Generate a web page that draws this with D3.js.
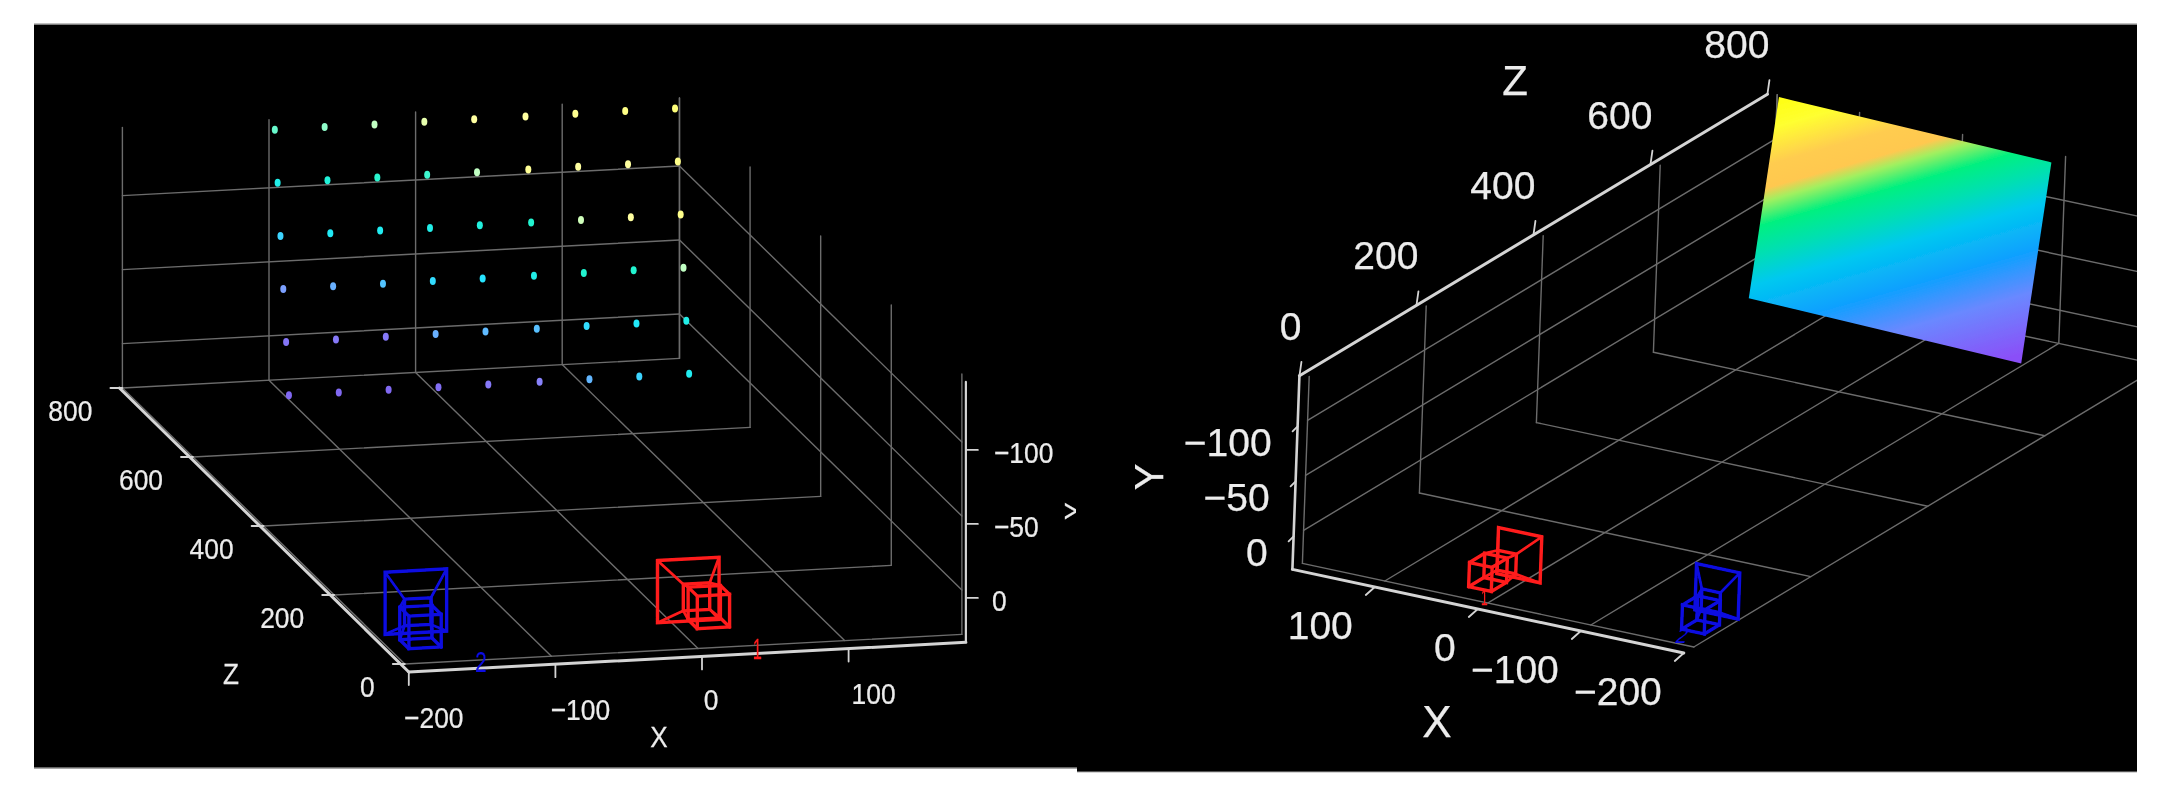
<!DOCTYPE html>
<html><head><meta charset="utf-8">
<style>html,body{margin:0;padding:0;background:#fff}svg{display:block}text{font-family:"Liberation Sans",Arial,sans-serif;fill:#ececec;stroke:#ececec;stroke-width:.25}</style>
<script src="https://cdn.jsdelivr.net/npm/d3@7/dist/d3.min.js"></script>
</head><body><svg id="c" width="2158" height="794"></svg>
<script>
// ---- data ----
const xTicks=[-200,-100,0,100];
const yTicks=[-100,-50,0];
const zTicks=[0,200,400,600,800];
const xMax=180, yTop=-146, yTopRight=-140, yFloor=30;
const boardX=[-97,-63,-29,5,39,74,108,142,176];
const boardY=[-140,-106,-72,-38,-4,30];
const boardZ=[796,788,780,772,764,756];
const surfaceZShift=[-15,0];
const dotValues=[
 [.62,.66,.72,.80,.85,.85,.90,.93,.97],
 [.50,.53,.56,.58,.72,.88,.85,.85,.92],
 [.40,.47,.48,.50,.52,.55,.75,.85,.92],
 [.25,.30,.36,.42,.44,.50,.55,.55,.72],
 [.08,.10,.10,.30,.33,.35,.42,.46,.50],
 [.02,.03,.03,.05,.10,.14,.32,.40,.48]];
const colorDomain=[0,.2,.35,.45,.55,.7,.85,1];
const colorRange=["#7f62f0","#8c90ff","#58c0ff","#20e8ff","#20f4d0","#b8ffc8","#ffffa0","#ffff70"];
const surfaceOffsets=[0,.09,.2,.27,.31,.38,.462,.557,.695,.822,1];
const surfaceColors=["#ffff10","#ffff30","#ffcc50","#ffc850","#a0f060","#00f080","#00e0b0","#00c8f0","#10a0ff","#6a88ff","#8a50f8"];
const cameraNames=["1","2"];
const cameraColors=["#ff1c1c","#0a0ae0"];
const cameraX=[3,-178], cameraY=[0,3], cameraZ=[40,60];
const lensX=[2,-6], lensY=[0,8], lensZ=[-50,-38];

// ---- projection helpers ----
const unit=px=>d3.scaleLinear().domain([0,1]).range([0,px]);
function projector(ox,oy,xv,yv,zv){
  const xx=unit(xv[0]),xy=unit(xv[1]),yx=unit(yv[0]),yy=unit(yv[1]),zx=unit(zv[0]),zy=unit(zv[1]);
  return (X,Y,Z)=>[ox+xx(X)+yx(Y)+zx(Z),oy+xy(X)+yy(Y)+zy(Z)];
}
const L=projector(702,612,[1.466,-.078],[0,1.48],[-.353,-.345]);
const R=projector(1479,576,[-1.03,-.22],[-.04,1.1],[.585,-.352]);
const offs=(p,dx,dy)=>(X,Y,Z)=>{const q=p(X,Y,Z);return [q[0]+dx,q[1]+dy];};
const LG=offs(L,-4,-8), RG=offs(R,10,-6), RC=offs(R,20,-6);

const svg=d3.select("#c");
const defs=svg.append("defs");
[["b1",.7],["b2",.45]].forEach(([id,s])=>defs.append("filter").attr("id",id)
  .attr("filterUnits","userSpaceOnUse").attr("x",0).attr("y",0).attr("width",2158).attr("height",794)
  .append("feGaussianBlur").attr("stdDeviation",s));
defs.append("clipPath").attr("id","cl").append("rect").attr("x",34).attr("y",24).attr("width",1042).attr("height",744);
defs.append("clipPath").attr("id","cr").append("rect").attr("x",1077).attr("y",24).attr("width",1060).attr("height",748);

svg.append("rect").attr("x",34).attr("y",24).attr("width",1043).attr("height",744).attr("fill","#000");
svg.append("rect").attr("x",1077).attr("y",24).attr("width",1060).attr("height",748).attr("fill","#000");
svg.append("line").attr("x1",34).attr("x2",2137).attr("y1",24).attr("y2",24).attr("stroke","#aaa").attr("stroke-width",1.5);
svg.append("line").attr("x1",34).attr("x2",1077).attr("y1",768).attr("y2",768).attr("stroke","#888").attr("stroke-width",1.5);
svg.append("line").attr("x1",1077).attr("x2",2137).attr("y1",772).attr("y2",772).attr("stroke","#aaa").attr("stroke-width",1);

const path=d3.line();
function seg(g,a,b,stroke,w){g.append("path").attr("d",path([a,b])).attr("fill","none").attr("stroke",stroke).attr("stroke-width",w).attr("stroke-linecap","round");}

function grid(g,P,top){
  const c="#6c6c6c",w=1.4;
  const xs=[...xTicks,xMax];
  xs.forEach(x=>seg(g,P(x,top,800),P(x,yFloor,800),c,w));
  zTicks.forEach(z=>seg(g,P(xMax,top,z),P(xMax,yFloor,z),c,w));
  yTicks.forEach(y=>{seg(g,P(-200,y,800),P(xMax,y,800),c,w);seg(g,P(xMax,y,800),P(xMax,y,0),c,w);});
  zTicks.forEach(z=>seg(g,P(-200,yFloor,z),P(xMax,yFloor,z),c,w));
  xTicks.forEach(x=>seg(g,P(x,yFloor,0),P(x,yFloor,800),c,w));
}
function camera(g,P,i){
  const rect=(cx,cy,cz,h)=>[[cx-h,cy-h,cz],[cx+h,cy-h,cz],[cx+h,cy+h,cz],[cx-h,cy+h,cz]];
  const X=cameraX[i],Y=cameraY[i],Z=cameraZ[i];
  const big=rect(X,Y,Z,21), mid=rect(X+lensX[i]*.4,Y+lensY[i]*.4,Z+lensZ[i]*.4,9);
  const n1=rect(X+lensX[i],Y+lensY[i],Z+lensZ[i]+13,11), n2=rect(X+lensX[i],Y+lensY[i],Z+lensZ[i]-13,11);
  const col=cameraColors[i], w=3.4;
  const loop=r=>g.append("path").attr("d",path(r.map(p=>P(...p)))+"Z").attr("fill","none").attr("stroke",col).attr("stroke-width",w);
  [big,mid,n1,n2].forEach(loop);
  d3.range(4).forEach(k=>{
    seg(g,P(...big[k]),P(...mid[k]),col,w*.8);
    seg(g,P(...mid[k]),P(...n1[k]),col,w*.8);
    seg(g,P(...n1[k]),P(...n2[k]),col,w);
  });
}
function label(g,x,y,s,size,sx,anchor,extra){
  g.append("text").attr("transform",`translate(${x},${y}) ${extra||""} scale(${sx},1)`)
   .attr("font-size",size).attr("text-anchor",anchor||"middle").attr("dy",".36em").text(s);
}
const fmt=v=>String(v).replace("-","\u2212");

// ---- left panel ----
const clipL=svg.append("g").attr("clip-path","url(#cl)");
const gl=clipL.append("g").attr("filter","url(#b1)");
grid(gl,LG,yTop);
const gd=clipL.append("g").attr("filter","url(#b2)");
const dotColor=d3.scaleLinear().domain(colorDomain).range(colorRange);
dotValues.forEach((row,r)=>row.forEach((v,c)=>{
  const p=LG(boardX[c],boardY[r],boardZ[r]);
  gd.append("ellipse").attr("cx",p[0]).attr("cy",p[1]).attr("rx",3).attr("ry",4).attr("fill",dotColor(v));
}));
cameraNames.forEach((n,i)=>camera(gl,LG,i));
const wA="#d4d4d4";
seg(gl,L(-200,yFloor,0),L(xMax,yFloor,0),wA,3);
seg(gl,L(-200,yFloor,0),[LG(-200,yFloor,800)[0]-3,LG(-200,yFloor,800)[1]],wA,3);
seg(gl,L(xMax,yFloor,0),L(xMax,yTop,0),wA,2.2);
xTicks.forEach(x=>{const p=L(x,yFloor,0);seg(gl,p,[p[0],p[1]+13],wA,1.8);
  label(gl,p[0]+(x===0?9:25),p[1]+(x===0?43:45),fmt(x),30,.88);});
zTicks.forEach(z=>{const p=LG(-200,yFloor,z);seg(gl,p,[p[0]-12,p[1]],wA,1.8);
  label(gl,p[0]-30,p[1]+22,fmt(z),30,.88,"end");});
yTicks.forEach(y=>{const p=L(xMax,y,0);seg(gl,p,[p[0]+12,p[1]],wA,1.8);
  label(gl,p[0]+28-(y===0?2:0),p[1]+2,fmt(y),30,.88,"start");});
label(gl,659,736,"X",30,.87);
label(gl,231,673,"Z",30,.87);
label(gl,1074,511,"Y",30,.87,"middle","rotate(-90)");
cameraNames.forEach((n,i)=>{
  const p=LG(cameraX[i],cameraY[i],cameraZ[i]);
  gl.append("text").attr("transform",`translate(${p[0]+(i?65:69)},${p[1]+(i?60:58)}) scale(${i?.7:.55},1)`)
    .attr("font-size",30).attr("text-anchor","middle").attr("dy",".36em").style("fill",cameraColors[i]).style("stroke",cameraColors[i]).text(n);
});

// ---- right panel ----
const gr=svg.append("g").attr("clip-path","url(#cr)").append("g").attr("filter","url(#b1)");
grid(gr,RG,yTopRight);
const grad=defs.append("linearGradient").attr("id","surf").attr("gradientUnits","userSpaceOnUse")
  .attr("x1",1773).attr("y1",98).attr("x2",1859).attr("y2",400);
surfaceOffsets.forEach((o,i)=>grad.append("stop").attr("offset",o).attr("stop-color",surfaceColors[i]));
const corners=[[0,0,0],[boardX.length-1,0,1],[boardX.length-1,boardY.length-1,1],[0,boardY.length-1,0]]
  .map(([c,r,s])=>RG(boardX[c],boardY[r],boardZ[r]+surfaceZShift[s]));
gr.append("path").attr("d",path(corners)+"Z").attr("fill","url(#surf)");
cameraNames.forEach((n,i)=>camera(gr,RC,i));
seg(gr,R(xMax,yFloor,0),R(-200,yFloor,0),wA,3);
seg(gr,R(xMax,yFloor,0),R(xMax,yTop,0),wA,2.6);
seg(gr,R(xMax,yTop,0),R(xMax,yTop,800),wA,3);
xTicks.forEach(x=>{const p=R(x,yFloor,0);seg(gr,p,[p[0]-9,p[1]+8],wA,1.8);
  label(gr,p[0]-22,p[1]+38,fmt(x),39,1,"end");});
yTicks.forEach(y=>{const p=R(xMax,y,0);seg(gr,p,[p[0]-5,p[1]+5],wA,1.8);
  label(gr,p[0]-26,p[1]+16,fmt(y),39,1,"end");});
zTicks.forEach(z=>{const p=R(xMax,yTop,z);seg(gr,p,[p[0]+2,p[1]-14],wA,1.8);
  label(gr,p[0]+2,p[1]-50,fmt(z),39,1,"end");});
label(gr,1437,721,"X",44,1);
label(gr,1515,80,"Z",42,1);
label(gr,1149,477,"Y",40,1,"middle","rotate(-90)");
cameraNames.forEach((n,i)=>{
  const p=RG(cameraX[i],cameraY[i],cameraZ[i]);
  gr.append("text").attr("transform",`translate(${p[0]-25},${p[1]+(i?44:42)}) ${i?"skewX(-20)":""} scale(${i?.9:.55},1)`)
    .attr("font-size",22).attr("text-anchor","middle").attr("dy",".36em").style("fill",cameraColors[i]).style("stroke",cameraColors[i]).text(n);
});
</script></body></html>
